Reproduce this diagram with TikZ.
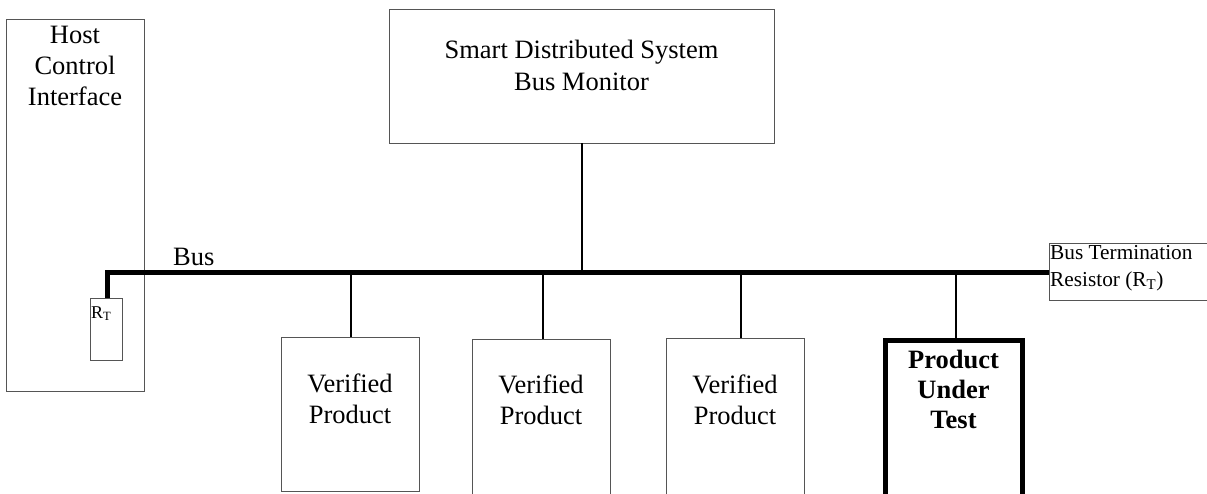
\documentclass[tikz,border=0pt]{standalone}
\usepackage{fontspec}
\setmainfont{Liberation Serif}
\definecolor{edge}{HTML}{555555}
\tikzset{
  box/.style={draw=edge, line width=1pt, fill=white, anchor=north west, inner sep=0pt, outer sep=0pt},
  dutbox/.style={draw=black, line width=5pt, fill=white, anchor=north west, inner sep=0pt, outer sep=0pt},
  lbl/.style={anchor=north, align=center, inner sep=0pt, font=\fontsize{26.5}{31}\selectfont},
  small/.style={anchor=north west, align=left, inner sep=0pt, font=\fontsize{21.3}{27}\selectfont},
  tap/.style={draw=black, line width=2pt},
  busline/.style={draw=black, line width=5pt}
}
\begin{document}
\begin{tikzpicture}[x=1pt, y=-1pt]
\useasboundingbox (0,0) rectangle (1207,493);

% enclosures
\node[box, minimum width=138pt, minimum height=372pt] (host) at (6,19) {};
\node[box, minimum width=32pt, minimum height=62pt] (rt) at (90,298) {};
\node[box, minimum width=385pt, minimum height=134pt] (sds) at (389,9) {};
\node[box, minimum width=138pt, minimum height=154pt] (vp1) at (281,337) {};
\node[box, minimum width=138pt, minimum height=160pt] (vp2) at (472,339) {};
\node[box, minimum width=138pt, minimum height=160pt] (vp3) at (666,338) {};
\node[dutbox, minimum width=137pt, minimum height=160pt] (dut) at (885,340) {};
\node[box, minimum width=165pt, minimum height=57pt] (term) at (1049,243) {};

% texts
\node[lbl] (hosttxt) at (75,26) {Host\\Control\\Interface};
\node[anchor=base west, inner sep=0pt, font=\fontsize{18}{22}\selectfont] (rttxt) at (91,318) {R\textsubscript{T}};
\node[lbl, font=\fontsize{26.5}{32}\selectfont] (sdstxt) at (581.5,40) {Smart Distributed System\\Bus Monitor};
\node[lbl] (vp1txt) at (350,374) {Verified\\Product};
\node[lbl] (vp2txt) at (541,375) {Verified\\Product};
\node[lbl] (vp3txt) at (735,375) {Verified\\Product};
\node[lbl, font=\fontsize{26.5}{30}\selectfont\bfseries] (duttxt) at (953.5,350) {Product\\Under\\Test};
\node[small] (termtxt) at (1050,245) {Bus Termination\\Resistor (R\textsubscript{T})};
\node[anchor=base west, inner sep=0pt, font=\fontsize{26.5}{31}\selectfont] (bustxt) at (173,265) {Bus};

% bus
\coordinate (busy) at (0,272);
\draw[tap] (sds.south) -- (sds.south |- busy);
\draw[tap] ([xshift=1pt]vp1.north) -- ([xshift=1pt]vp1.north |- busy);
\draw[tap] ([xshift=2pt]vp2.north) -- ([xshift=2pt]vp2.north |- busy);
\draw[tap] ([xshift=6pt]vp3.north) -- ([xshift=6pt]vp3.north |- busy);
\draw[tap] ([xshift=2.5pt]dut.north) -- ([xshift=2.5pt]dut.north |- busy);
\draw[busline] ([xshift=1pt]rt.north) |- (term.west |- busy);
\end{tikzpicture}
\end{document}
